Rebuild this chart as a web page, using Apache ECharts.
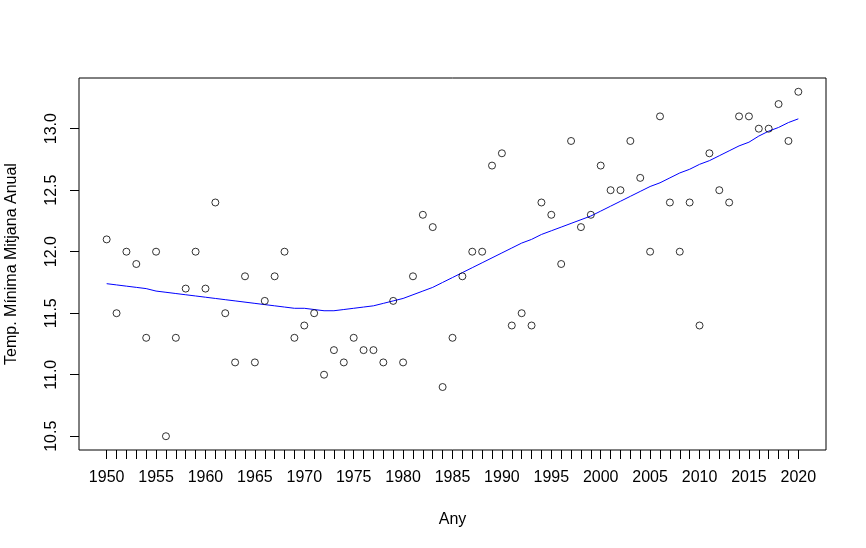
<!DOCTYPE html>
<html>
<head>
<meta charset="utf-8">
<script src="https://cdn.jsdelivr.net/npm/echarts@6/dist/echarts.min.js"></script>
<style>
  html, body { margin: 0; padding: 0; background: #fff; }
  #chart { width: 866px; height: 548px; }
</style>
</head>
<body>
<div id="chart"></div>
<script>
// anys 1950..2020
const years = [];
for (let y = 1950; y <= 2020; y++) years.push(y);

// temperatura minima mitjana anual (llegida del grafic)
const tempMin = [
  12.1, 11.5, 12.0, 11.9, 11.3, 12.0, 10.5, 11.3, 11.7, 12.0,
  11.7, 12.4, 11.5, 11.1, 11.8, 11.1, 11.6, 11.8, 12.0, 11.3,
  11.4, 11.5, 11.0, 11.2, 11.1, 11.3, 11.2, 11.2, 11.1, 11.6,
  11.1, 11.8, 12.3, 12.2, 10.9, 11.3, 11.8, 12.0, 12.0, 12.7,
  12.8, 11.4, 11.5, 11.4, 12.4, 12.3, 11.9, 12.9, 12.2, 12.3,
  12.7, 12.5, 12.5, 12.9, 12.6, 12.0, 13.1, 12.4, 12.0, 12.4,
  11.4, 12.8, 12.5, 12.4, 13.1, 13.1, 13.0, 13.0, 13.2, 12.9,
  13.3
];

// corba loess (blava)
const loessFit = [
  11.74, 11.73, 11.72, 11.71, 11.70, 11.68, 11.67, 11.66, 11.65, 11.64,
  11.63, 11.62, 11.61, 11.60, 11.59, 11.58, 11.57, 11.56, 11.55, 11.54,
  11.54, 11.53, 11.52, 11.52, 11.53, 11.54, 11.55, 11.56, 11.58, 11.60,
  11.62, 11.65, 11.68, 11.71, 11.75, 11.79, 11.83, 11.87, 11.91, 11.95,
  11.99, 12.03, 12.07, 12.10, 12.14, 12.17, 12.20, 12.23, 12.26, 12.29,
  12.33, 12.37, 12.41, 12.45, 12.49, 12.53, 12.56, 12.60, 12.64, 12.67,
  12.71, 12.74, 12.78, 12.82, 12.86, 12.89, 12.94, 12.98, 13.01, 13.05,
  13.08
];

const xLabels = [1950, 1955, 1960, 1965, 1970, 1975, 1980, 1985, 1990, 1995, 2000, 2005, 2010, 2015, 2020];
const yLabels = [10.5, 11.0, 11.5, 12.0, 12.5, 13.0];

const font = 'Liberation Sans, Arial, sans-serif';

const chart = echarts.init(document.getElementById('chart'), null, { renderer: 'canvas' });
chart.setOption({
  animation: false,
  backgroundColor: '#fff',
  grid: {
    left: 79, right: 40, top: 78, bottom: 98,
    outerBoundsMode: 'none',
    containLabel: false,
    show: true, borderColor: '#000', borderWidth: 1, backgroundColor: 'transparent'
  },
  xAxis: {
    type: 'value',
    min: 1947.2,
    max: 2022.8,
    name: 'Any',
    nameLocation: 'middle',
    nameGap: 62,
    nameTextStyle: { fontFamily: font, fontSize: 16, color: '#000' },
    splitLine: { show: false },
    axisLine: { show: false },
    axisTick: {
      show: true, inside: false, length: 9,
      customValues: years,
      lineStyle: { color: '#000', width: 1 }
    },
    axisLabel: {
      customValues: xLabels,
      margin: 20,
      fontFamily: font, fontSize: 16, color: '#000',
      formatter: v => String(v)
    }
  },
  yAxis: {
    type: 'value',
    min: 10.388,
    max: 13.412,
    name: 'Temp. Mínima Mitjana Anual',
    nameLocation: 'middle',
    nameGap: 59,
    nameTextStyle: { fontFamily: font, fontSize: 16, color: '#000' },
    splitLine: { show: false },
    axisLine: { show: false },
    axisTick: {
      show: true, inside: false, length: 9,
      customValues: yLabels,
      lineStyle: { color: '#000', width: 1 }
    },
    axisLabel: {
      customValues: yLabels,
      rotate: 90,
      margin: 19,
      fontFamily: font, fontSize: 16, color: '#000',
      formatter: v => v.toFixed(1)
    }
  },
  series: [
    {
      name: 'Temp',
      type: 'scatter',
      symbol: 'circle',
      symbolSize: 7,
      itemStyle: { color: 'rgba(0,0,0,0)', borderColor: '#000', borderWidth: 1 },
      data: years.map((y, i) => [y, tempMin[i]]),
      z: 3
    },
    {
      name: 'loess',
      type: 'line',
      showSymbol: false,
      symbol: 'none',
      smooth: false,
      lineStyle: { color: '#0000ff', width: 1 },
      data: years.map((y, i) => [y, loessFit[i]]),
      z: 2
    }
  ]
});
</script>
</body>
</html>
